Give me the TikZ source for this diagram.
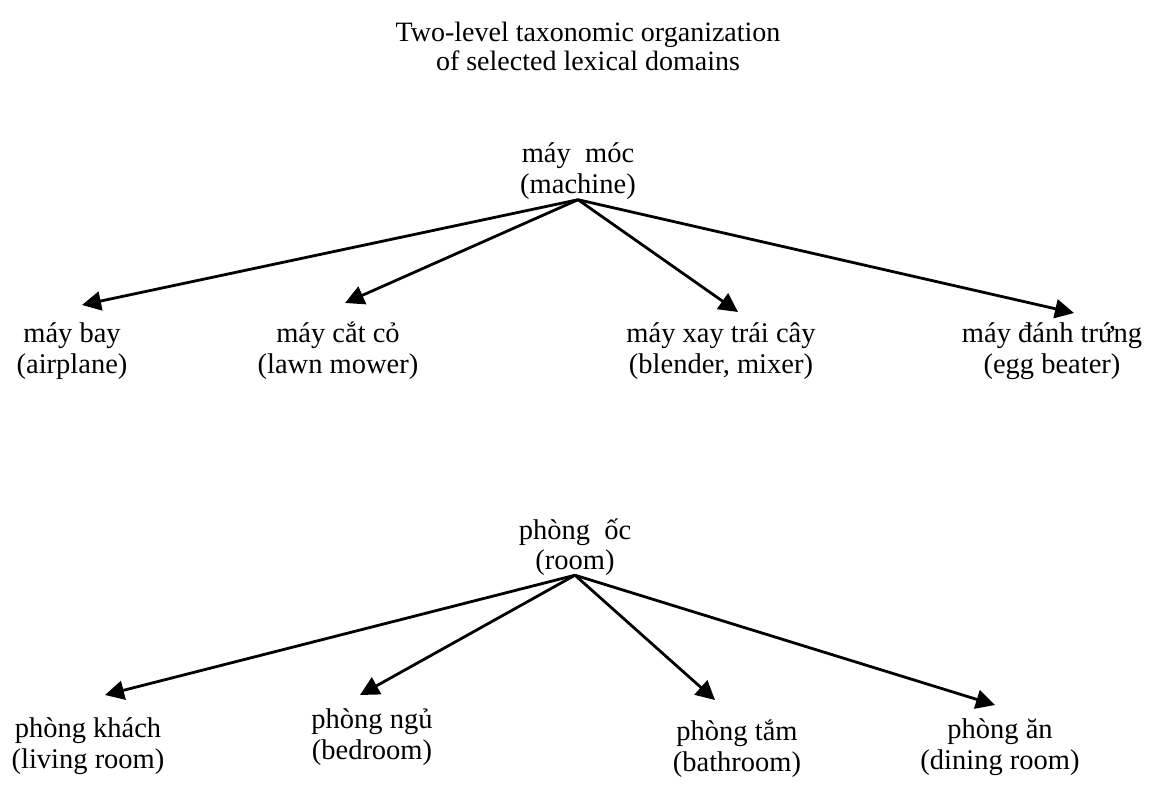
\documentclass[tikz,border=0pt]{standalone}
\usepackage{fontspec}
\setmainfont{Liberation Serif}
\usetikzlibrary{arrows.meta}
% fixed-height struts so every two-line label has the same box
\newcommand\lbltop{\rule{0pt}{27pt}}
\newcommand\lblbot{\rule[-8pt]{0pt}{8pt}}
\begin{document}
\begin{tikzpicture}[x=1pt,y=-1pt,
  ttl/.style={align=center,inner sep=0pt,font=\fontsize{28}{29}\selectfont},
  lbl/.style={align=center,inner sep=0pt,font=\fontsize{28.5}{31}\selectfont},
  arr/.style={line width=2.8pt,-{Triangle[length=19pt,width=19pt]}}]
\useasboundingbox (0,0) rectangle (1169,788);
% title
\node[ttl] (title) at (588,46) {Two-level taxonomic organization\\of selected lexical domains};
% machine tree
\node[lbl] (mm) at (578,168.5) {\lbltop máy\ \ móc\\(machine)\lblbot};
\node[lbl] (m1) at (72,348) {\lbltop máy bay\\(airplane)\lblbot};
\node[lbl] (m2) at (338,348) {\lbltop máy cắt cỏ\\(lawn mower)\lblbot};
\node[lbl] (m3) at (721,348) {\lbltop máy xay trái cây\\(blender, mixer)\lblbot};
\node[lbl] (m4) at (1052,348) {\lbltop máy đánh trứng\\(egg beater)\lblbot};
\draw[arr] ([yshift=2pt]mm.south) -- ([shift={(10,-43)}]m1.center);
\draw[arr] ([yshift=2pt]mm.south) -- ([shift={(7,-45)}]m2.center);
\draw[arr] ([yshift=2pt]mm.south) -- ([shift={(17,-36)}]m3.center);
\draw[arr] ([yshift=2pt]mm.south) -- ([shift={(22,-35)}]m4.center);
% room tree
\node[lbl,font=\fontsize{28.5}{30}\selectfont] (po) at (575,545) {\lbltop phòng\ \ ốc\\(room)\lblbot};
\node[lbl] (r1) at (88,743) {\lbltop phòng khách\\(living room)\lblbot};
\node[lbl] (r2) at (372,734) {\lbltop phòng ngủ\\(bedroom)\lblbot};
\node[lbl] (r3) at (737,746) {\lbltop phòng tắm\\(bathroom)\lblbot};
\node[lbl] (r4) at (1000,744) {\lbltop phòng ăn\\(dining room)\lblbot};
\draw[arr] ([yshift=2.5pt]po.south) -- ([shift={(17,-48)}]r1.center);
\draw[arr] ([yshift=2.5pt]po.south) -- ([shift={(-12,-39)}]r2.center);
\draw[arr] ([yshift=2.5pt]po.south) -- ([shift={(-22,-46)}]r3.center);
\draw[arr] ([yshift=2.5pt]po.south) -- ([shift={(-5,-39)}]r4.center);
\end{tikzpicture}
\end{document}
